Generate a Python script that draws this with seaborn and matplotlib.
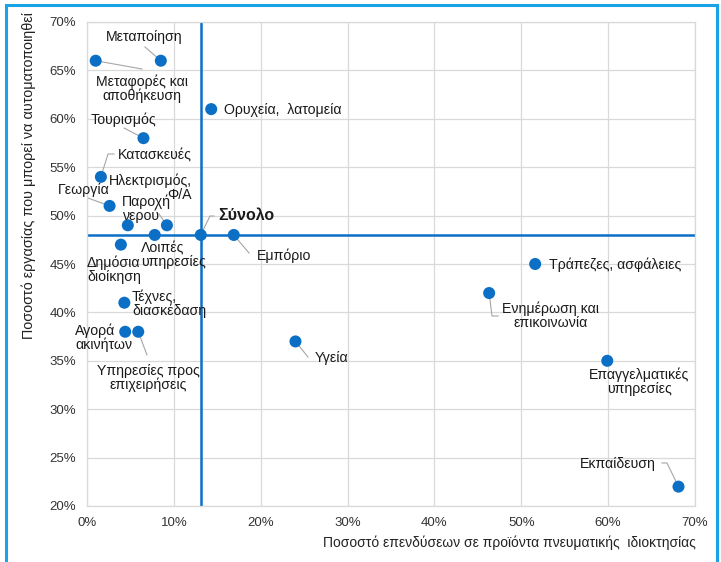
import matplotlib
matplotlib.use("Agg")
import matplotlib.pyplot as plt
import seaborn as sns
import pandas as pd
from matplotlib.patches import Rectangle
from matplotlib.ticker import PercentFormatter

sectors = ["Μεταποίηση", "Μεταφορές και\nαποθήκευση", "Ορυχεία,  λατομεία", "Τουρισμός",
           "Κατασκευές", "Γεωργία", "Ηλεκτρισμός,\nΦ/Α", "Παροχή\nνερού",
           "Λοιπές\nυπηρεσίες", "Δημόσια\nδιοίκηση", "Εμπόριο", "Τέχνες,\nδιασκέδαση",
           "Αγορά\nακινήτων", "Υπηρεσίες προς\nεπιχειρήσεις", "Υγεία",
           "Τράπεζες, ασφάλειες", "Ενημέρωση και\nεπικοινωνία", "Επαγγελματικές\nυπηρεσίες",
           "Εκπαίδευση", "Σύνολο"]
ip_share = [8.5, 1.0, 14.3, 6.5, 1.6, 2.6, 9.2, 4.7, 7.8, 3.9, 16.9, 4.3, 4.4, 5.9,
            24.0, 51.6, 46.3, 59.9, 68.1, 13.1]
automation = [66, 66, 61, 58, 54, 51, 49, 49, 48, 47, 48, 41, 38, 38, 37, 45, 42, 35, 22, 48]

total_x = ip_share[-1]
total_y = automation[-1]

df = pd.DataFrame({"sector": sectors, "ip": ip_share, "auto": automation})

W, H = 721, 562
fig = plt.figure(figsize=(W / 100, H / 100), dpi=100)
plt.rcParams["font.family"] = ["Liberation Sans", "DejaVu Sans"]

L, R, T, B = 87, 695, 22, 506
ax = fig.add_axes([L / W, 1 - B / H, (R - L) / W, (B - T) / H])

blue = "#0B6FC6"
ax.axvline(total_x, color=blue, lw=1.8, zorder=2)
ax.axhline(total_y, color=blue, lw=1.8, zorder=2)

sns.scatterplot(data=df, x="ip", y="auto", ax=ax, s=75, color=blue,
                edgecolor="none", zorder=3, legend=False)

ax.set_xlim(0, 70)
ax.set_ylim(20, 70)
ax.set_xticks(range(0, 71, 10))
ax.set_yticks(range(20, 71, 5))
ax.xaxis.set_major_formatter(PercentFormatter(decimals=0))
ax.yaxis.set_major_formatter(PercentFormatter(decimals=0))
ax.grid(True, color="#d9d9d9", lw=0.9)
ax.set_axisbelow(True)
for s in ax.spines.values():
    s.set_color("#d9d9d9")
    s.set_linewidth(0.9)
ax.tick_params(length=0, labelsize=9.5, colors="#333333", pad=8)
ax.set_xlabel("Ποσοστό επενδύσεων σε προϊόντα πνευματικής  ιδιοκτησίας",
              fontsize=10, color="#222222")
ax.xaxis.set_label_coords((509 - L) / (R - L), -(543 - B) / (B - T))
ax.xaxis.label.set_va("center")
ax.set_ylabel("Ποσοστό εργασίας που μπορεί να αυτοματοποιηθεί",
              fontsize=10.4, color="#222222")
ax.yaxis.set_label_coords(-(L - 29) / (R - L), (B - 176) / (B - T))
ax.yaxis.label.set_va("center")


def px2data(px, py):
    x = (px - L) / (R - L) * 70
    y = 70 - (py - T) / (B - T) * 50
    return x, y


# label placements in pixel coordinates: (text x, text y, ha, leader path or None)
placements = {
    0: (144, 37, "center", [(145, 47)]),
    1: (142, 89, "center", [(142, 69)]),
    2: (224, 110, "left", None),
    3: (123, 120, "center", [(124, 128)]),
    4: (118, 155, "left", [(108, 154), (114, 154)]),
    5: (84, 190, "center", [(88, 198)]),
    6: (192, 188, "right", [(159, 214)]),
    7: (122, 209, "left", None),
    8: (141, 255, "left", None),
    9: (87, 270, "left", None),
    10: (257, 256, "left", [(249, 253)]),
    11: (132, 304, "left", None),
    12: (75, 338, "left", None),
    13: (148, 378, "center", [(147, 355)]),
    14: (315, 358, "left", [(308, 357)]),
    15: (549, 265, "left", None),
    16: (551, 316, "center", [(492, 316), (498, 316)]),
    17: (639, 382, "center", None),
    18: (618, 464, "center", [(667, 463), (662, 463)]),
    19: (218, 215, "left", [(210, 216), (214, 216)]),
}

LINE_PX = 14
for i, (tx, ty, ha, lead) in placements.items():
    x, y = df.loc[i, "ip"], df.loc[i, "auto"]
    bold = i == 19
    lines = df.loc[i, "sector"].split("\n")
    n = len(lines)
    for k, line in enumerate(lines):
        py = ty + (k - (n - 1) / 2) * LINE_PX
        dx, dy = px2data(tx, py)
        ax.text(dx, dy, line, ha=ha, va="center",
                fontsize=11.5 if bold else 10.2, fontweight="bold" if bold else "normal",
                color="#1a1a1a", zorder=4)
    if lead is not None:
        pts = [(x, y)] + [px2data(*p) for p in lead]
        ax.plot([p[0] for p in pts], [p[1] for p in pts], color="#a6a6a6", lw=0.8,
                zorder=2.5)

fig.patches.append(Rectangle((6 / W, -0.01), (717 - 6) / W, 1 - 5 / H + 0.01,
                             transform=fig.transFigure, fill=False,
                             edgecolor="#18A4E6", lw=2.2, clip_on=False))

fig.savefig("out.png", dpi=100)
